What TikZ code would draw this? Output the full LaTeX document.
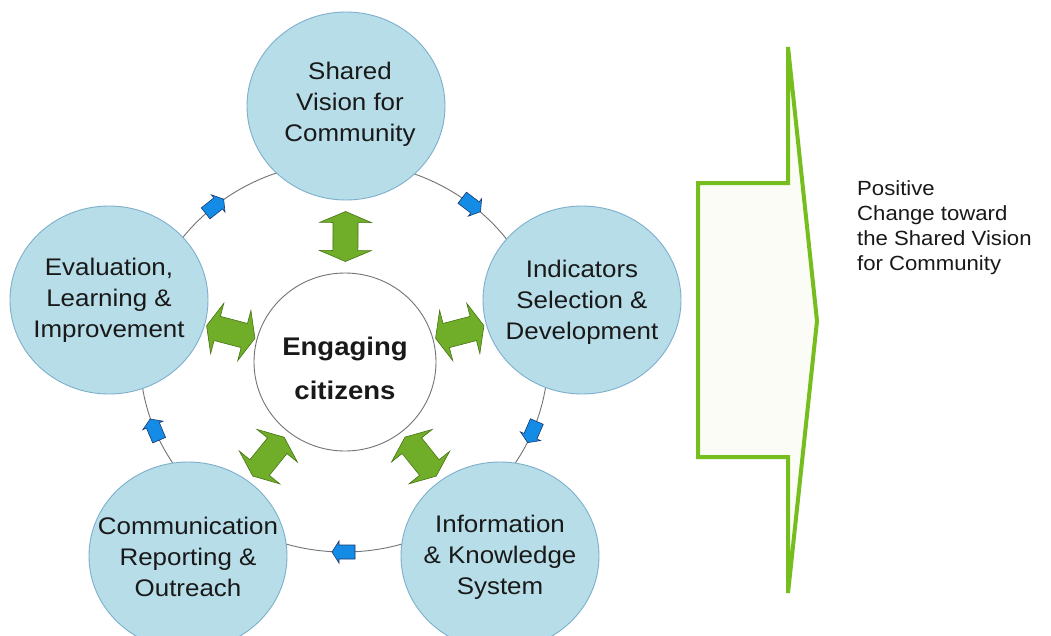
\documentclass[tikz,border=0pt]{standalone}
\usepackage{fontspec}
\setmainfont[FakeStretch=1.08]{Liberation Sans}
\usetikzlibrary{shapes.geometric,calc}
\definecolor{bubblefill}{RGB}{183,221,232}
\definecolor{bubbleline}{RGB}{125,175,205}
\definecolor{ringgrey}{RGB}{115,115,115}
\definecolor{gfill}{RGB}{112,173,40}
\definecolor{gline}{RGB}{70,115,20}
\definecolor{bfill}{RGB}{20,140,230}
\definecolor{bline}{RGB}{25,55,110}
\definecolor{bigline}{RGB}{118,190,30}
\definecolor{bigfill}{RGB}{252,252,246}
\definecolor{txt}{RGB}{25,25,25}
\newcommand{\linkarrow}[2]{%
  \path (#1) -- coordinate[midway] (lam) (#2);
  \path let \p1=($(#2.center)-(#1.center)$), \n1={atan2(\y1,\x1)} in
    \pgfextra{\xdef\laang{\n1}};
  \draw[greenarrow, shift={(lam)}, rotate=\laang]
    (25,0) -- (14,26) -- (14,12.5) -- (-14,12.5) -- (-14,26) -- (-25,0)
    -- (-14,-26) -- (-14,-12.5) -- (14,-12.5) -- (14,-26) -- cycle;
}
\begin{document}
\begin{tikzpicture}[x=1pt,y=-1pt,
  bubble/.style={ellipse, draw=bubbleline, fill=bubblefill, line width=0.9pt,
    minimum width=198pt, minimum height=188pt, inner sep=0pt},
  hub/.style={ellipse, draw=ringgrey, fill=white, line width=0.9pt,
    minimum width=182pt, minimum height=178pt, inner sep=0pt},
  bubbletext/.style={align=center, text=txt, inner sep=0pt,
    font=\fontsize{24}{31}\selectfont},
  hubtext/.style={align=center, text=txt, inner sep=0pt,
    font=\fontsize{25.5}{44}\selectfont\bfseries},
  sidetext/.style={align=left, text=txt, inner sep=0pt, anchor=north west,
    font=\fontsize{20.5}{25}\selectfont},
  ringline/.style={draw=ringgrey, line width=0.9pt},
  greenarrow/.style={fill=gfill, draw=gline, line width=0.6pt, line join=miter},
  bluearrow/.style={fill=bfill, draw=bline, line width=0.6pt},
  bigarrow/.style={draw=bigline, fill=bigfill, line width=4pt, line join=miter},
  ringarrow/.pic={
    \pgfmathsetmacro\rax{344+204*cos(#1)}
    \pgfmathsetmacro\ray{357+195*sin(#1)}
    \pgfmathsetmacro\raa{atan2(-195*cos(#1),-204*sin(#1))}
    \draw[bluearrow, shift={(\rax,\ray)}, rotate=\raa]
      (12,0) -- (5,11) -- (5,7) -- (-11,7) -- (-11,-7) -- (5,-7) -- (5,-11) -- cycle;
  }]
\useasboundingbox (0,0) rectangle (1051,635);
\clip (0,0) rectangle (1051,635);
\fill[white] (0,0) rectangle (1051,635);

% ring connecting the stages
\draw[ringline] (344,357) ellipse [x radius=204pt, y radius=195pt];

% stages
\node[bubble] (S) at (346,106) {};
\node[bubble] (I) at (582,300) {};
\node[bubble] (K) at (500,556) {};
\node[bubble] (C) at (188,556) {};
\node[bubble] (E) at (109,300) {};
\node[hub] (G) at (345,362) {};

\node[bubbletext] (St) at (350,104) {Shared\\Vision for\\Community};
\node[bubbletext] (It) at (582,302) {Indicators\\Selection \&\\Development};
\node[bubbletext] (Kt) at (500,557) {Information\\\& Knowledge\\System};
\node[bubbletext] (Ct) at (188,557) {Communication\\Reporting \&\\Outreach};
\node[bubbletext] (Et) at (109,300) {Evaluation,\\Learning \&\\Improvement};
\node[hubtext] (Gt) at (345,368) {Engaging\\citizens};

% blue direction arrows on the ring (clockwise)
\pic {ringarrow=-51.5};
\pic {ringarrow=22.5};
\pic {ringarrow=90};
\pic {ringarrow=158};
\pic {ringarrow=230.5};

% green two-way arrows between hub and stages
\linkarrow{G}{S}
\linkarrow{G}{I}
\linkarrow{G}{K}
\linkarrow{G}{C}
\linkarrow{G}{E}

% big outcome arrow
\draw[bigarrow] (698,183) -- (788,183) -- (788,47) -- (817,321) -- (788,593)
  -- (788,457) -- (698,457) -- cycle;
\node[sidetext] (P) at (857,180) {Positive\\Change toward\\the Shared Vision\\for Community};
\end{tikzpicture}
\end{document}
